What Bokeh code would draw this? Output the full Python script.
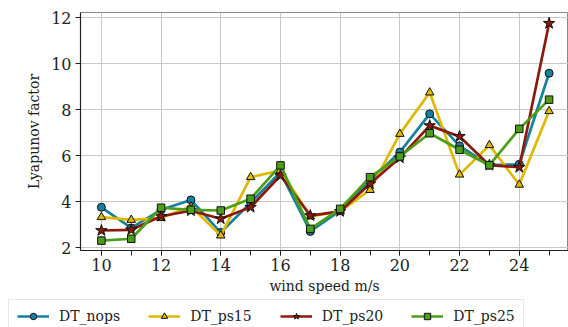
from bokeh.plotting import figure
from bokeh.layouts import column
from bokeh.models import Range1d, SingleIntervalTicker, Legend, LegendItem
from bokeh.embed import file_html
from bokeh.resources import INLINE

wind = [10, 11, 12, 13, 14, 15, 16, 17, 18, 19, 20, 21, 22, 23, 24, 25]
dt_nops = [3.75, 2.85, 3.64, 4.07, 2.65, 3.95, 5.27, 2.70, 3.60, 4.90, 6.15, 7.81, 6.42, 5.58, 5.62, 9.58]
dt_ps15 = [3.32, 3.20, 3.28, 3.78, 2.52, 5.06, 5.35, 3.35, 3.57, 4.50, 6.94, 8.74, 5.17, 6.45, 4.73, 7.93]
dt_ps20 = [2.74, 2.77, 3.36, 3.60, 3.25, 3.75, 5.13, 3.39, 3.57, 4.77, 5.90, 7.30, 6.83, 5.58, 5.49, 11.75]
dt_ps25 = [2.30, 2.38, 3.73, 3.64, 3.61, 4.12, 5.57, 2.81, 3.68, 5.06, 5.96, 6.97, 6.25, 5.58, 7.16, 8.43]

series_names = ["DT_nops", "DT_ps15", "DT_ps20", "DT_ps25"]
series_values = [dt_nops, dt_ps15, dt_ps20, dt_ps25]
colors = ["#16809f", "#e0b800", "#8c1a0c", "#4c9e17"]
markers = ["circle", "triangle", "star", "square"]
sizes = [8, 8.5, 12, 7.5]
legend_sizes = [7, 7, 10, 6.5]

FONT = "DejaVu Serif"
TXT = "#222222"

p = figure(width=568, height=297, output_backend="svg", toolbar_location=None,
           x_range=Range1d(9.30, 25.65), y_range=Range1d(1.87, 12.22),
           min_border_left=80, min_border_right=0, min_border_top=12,
           min_border_bottom=47)
p.frame_align = False

p.outline_line_color = "#888888"
p.outline_line_width = 1

for ax in (p.xaxis[0], p.yaxis[0]):
    ax.axis_line_color = "#222222"
    ax.axis_line_width = 1.2
    ax.major_tick_line_color = "#222222"
    ax.minor_tick_line_color = "#222222"
    ax.major_tick_out = 5
    ax.major_tick_in = 0
    ax.minor_tick_out = 5
    ax.minor_tick_in = 0
    ax.major_label_text_font = FONT
    ax.major_label_text_font_size = "16px"
    ax.major_label_text_color = TXT
    ax.axis_label_text_font = FONT
    ax.axis_label_text_font_size = "14px"
    ax.axis_label_text_font_style = "normal"
    ax.axis_label_text_color = TXT

p.xaxis[0].ticker = SingleIntervalTicker(interval=2, num_minor_ticks=2)
p.yaxis[0].ticker = SingleIntervalTicker(interval=2, num_minor_ticks=0)
p.yaxis[0].minor_tick_line_color = None
p.xaxis[0].axis_label = "wind speed m/s"
p.yaxis[0].axis_label = "Lyapunov factor"
p.xaxis[0].major_label_standoff = 3
p.xaxis[0].axis_label_standoff = 4
p.yaxis[0].major_label_standoff = 4
p.yaxis[0].axis_label_standoff = 6

p.xgrid.ticker = SingleIntervalTicker(interval=2)
p.ygrid.ticker = SingleIntervalTicker(interval=2)
for g in (p.xgrid[0], p.ygrid[0]):
    g.grid_line_color = "#c8c8c8"
    g.grid_line_width = 1

for vals, col, mk, sz in zip(series_values, colors, markers, sizes):
    p.line(wind, vals, line_color=col, line_width=2.7)
    p.scatter(wind, vals, marker=mk, size=sz, fill_color=col,
              line_color="#111111", line_width=1)

# legend strip below the chart (its renderers sit outside its visible range)
lg = figure(width=568, height=30, output_backend="svg", toolbar_location=None,
            x_range=Range1d(0, 1), y_range=Range1d(0, 1),
            x_axis_location=None, y_axis_location=None,
            min_border_left=0, min_border_right=0, min_border_top=0,
            min_border_bottom=0)
lg.frame_align = False
lg.grid.visible = False
lg.outline_line_color = None

items = []
for name, col, mk, sz in zip(series_names, colors, markers, legend_sizes):
    ln = lg.line([5, 6], [5, 6], line_color=col, line_width=2.7)
    sc = lg.scatter([5], [5], marker=mk, size=sz, fill_color=col,
                    line_color="#111111", line_width=1)
    items.append(LegendItem(label=name, renderers=[ln, sc]))

legend = Legend(items=items, orientation="horizontal", location=(8, -6),
                label_text_font=FONT, label_text_font_size="14px",
                label_text_color=TXT, glyph_width=32, glyph_height=16,
                label_standoff=10, spacing=28, padding=8, margin=0,
                border_line_color="#d0d0d0", border_line_width=1,
                background_fill_alpha=1)
lg.add_layout(legend, "center")

layout = column(p, lg, spacing=0)
open("out.html", "w").write(file_html(layout, INLINE))
